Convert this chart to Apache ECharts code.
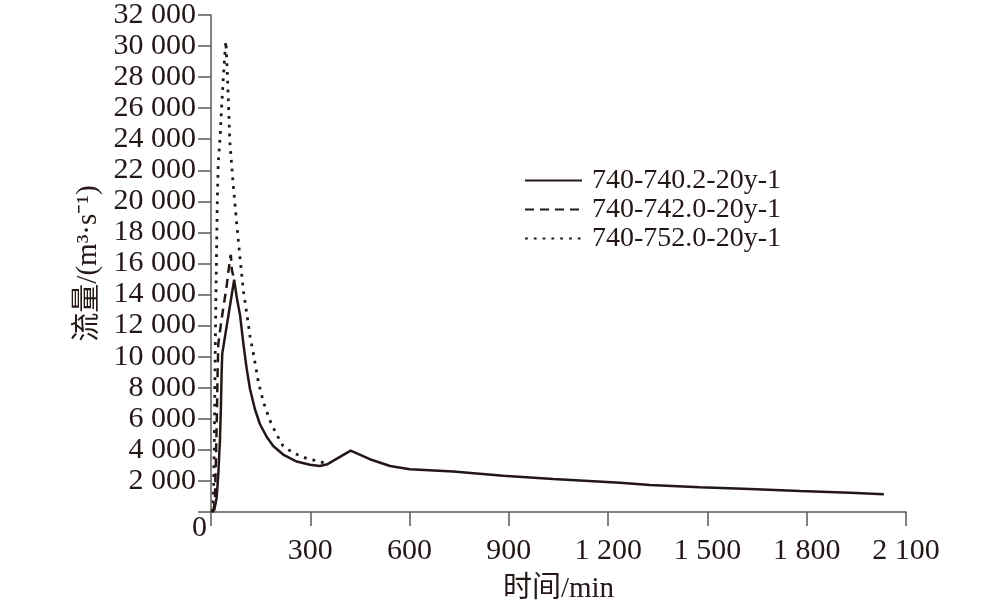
<!DOCTYPE html>
<html>
<head>
<meta charset="utf-8">
<script src="https://cdn.jsdelivr.net/npm/echarts@6/dist/echarts.min.js"></script>
<style>html,body{margin:0;padding:0;background:#fff}#c{width:992px;height:609px}</style>
</head>
<body>
<div id="c"></div>
<script>
// ---- data (time in min, discharge in m3/s) ----
const seriesNames = ['740-740.2-20y-1', '740-742.0-20y-1', '740-752.0-20y-1'];
const solidData = [
  [3,0],[10,150],[17,900],[22,2400],[27,4600],[30,6800],[32,8900],[34,10200],
  [70,14950],[78,13800],[88,12650],[98,10800],[108,9200],[118,7900],[133,6600],
  [148,5650],[168,4850],[188,4250],[218,3700],[259,3250],[299,3040],[329,2960],
  [352,3080],[422,3950],[480,3400],[541,2960],[601,2750],[732,2600],[883,2340],
  [1034,2125],[1236,1890],[1326,1740],[1477,1590],[1628,1480],[1779,1350],
  [1931,1240],[2033,1150]
];
const dashedData = [
  [5,0],[9,300],[12,1000],[15,3500],[18,6500],[20,9000],[22,10800],[32,12400],
  [47,14500],[58,16400],[60,16550],[63,15600],[70,14950]
];
const dottedData = [
  [3,0],[6,300],[8,1500],[10,4500],[12,9000],[14,12500],[16,15500],[19,20000],
  [22,22500],[27,24000],[32,26000],[37,27900],[42,29500],[45,30300],[50,27900],
  [57,23800],[67,21100],[78,18500],[88,16300],[98,14200],[108,12800],[118,11300],
  [128,10200],[143,8400],[158,7100],[178,5900],[198,5000],[218,4250],[249,3800],
  [289,3450],[329,3250],[352,3080]
];
const xTickInterval = 300, xMax = 2100;
const yTickInterval = 2000, yMax = 32000;
const xAxisName = '时间/min';
const yAxisName = '流量/(m³·s⁻¹)';

const FONT = '"Liberation Serif","Noto Sans CJK SC",serif';
const INK = '#231815';
const AXIS = '#5a5a5a';
function fmt(v){ return v === 0 ? '' : String(v).replace(/\B(?=(\d{3})+(?!\d))/g, ' '); }

const chart = echarts.init(document.getElementById('c'), null, {renderer:'canvas'});
const lineCommon = {type:'line', symbol:'none', smooth:false, animation:false, z:3};
chart.setOption({
  animation:false,
  backgroundColor:'#fff',
  grid:{left:211, right:86, top:15, bottom:97, containLabel:false},
  legend:{
    orient:'vertical', left:519, top:161, itemWidth:57, itemHeight:14, itemGap:0,
    data:seriesNames,
    itemStyle:{opacity:0},
    textStyle:{fontFamily:FONT, fontSize:28, color:INK, lineHeight:29, padding:[0,0,0,5]}
  },
  xAxis:{
    type:'value', min:0, max:xMax, interval:xTickInterval,
    name:xAxisName, nameLocation:'middle', nameGap:63,
    nameTextStyle:{fontFamily:FONT, fontSize:29, color:INK},
    axisLine:{show:true, lineStyle:{color:AXIS, width:1.5}},
    axisTick:{show:true, inside:false, length:14, lineStyle:{color:AXIS, width:1.5}},
    axisLabel:{formatter:fmt, fontFamily:FONT, fontSize:30, color:INK, margin:24},
    splitLine:{show:false}
  },
  yAxis:{
    type:'value', min:0, max:yMax, interval:yTickInterval,
    name:yAxisName, nameLocation:'middle', nameGap:108, nameRotate:90,
    nameTextStyle:{fontFamily:FONT, fontSize:29, color:INK},
    axisLine:{show:true, lineStyle:{color:AXIS, width:1.5}},
    axisTick:{show:true, inside:false, length:13, lineStyle:{color:AXIS, width:1.5}},
    axisLabel:{formatter:fmt, fontFamily:FONT, fontSize:30, color:INK, margin:15},
    splitLine:{show:false}
  },
  graphic:[{type:'text', left:192, top:513, style:{text:'0', font:'30px "Liberation Serif", serif', fill:INK}}],
  series:[
    Object.assign({name:seriesNames[0], data:solidData, lineStyle:{color:INK, width:2.5, type:'solid'}, itemStyle:{color:INK}}, lineCommon),
    Object.assign({name:seriesNames[1], data:dashedData, lineStyle:{color:INK, width:2.5, type:[9,6]}, itemStyle:{color:INK}}, lineCommon),
    Object.assign({name:seriesNames[2], data:dottedData, lineStyle:{color:INK, width:2.8, type:[2.8,6]}, itemStyle:{color:INK}}, lineCommon)
  ]
});
</script>
</body>
</html>
